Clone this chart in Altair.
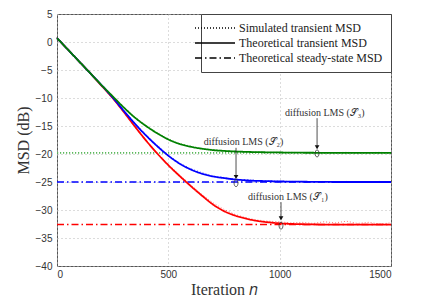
import altair as alt
import pandas as pd

# ---- data ----
iterations = list(range(0, 1501, 50))
nodes = ["S1", "S2", "S3", "S3-steady"]
node_colors = ["#ff0000", "#0000ff", "#008000", "#5cb85c"]
kinds = ["Simulated transient MSD", "Theoretical transient MSD", "Theoretical steady-state MSD"]
kind_green_ss = "steady-green"

red_theo = [0.7, -1.4, -3.5, -5.6, -7.8, -10.0, -12.5, -15.1, -17.6, -19.9, -22.0, -23.9, -25.7, -27.4,
            -29.0, -30.2, -31.0, -31.55, -31.95, -32.2, -32.38, -32.48, -32.54, -32.58, -32.6, -32.6,
            -32.6, -32.6, -32.6, -32.6, -32.6]
red_sim = [0.8, -1.3, -3.6, -5.5, -7.9, -10.1, -12.4, -15.0, -17.5, -19.8, -21.9, -23.7, -25.5, -27.2,
           -28.7, -29.9, -30.8, -31.4, -31.8, -32.0, -32.1, -32.3, -32.2, -32.4, -32.1, -32.3, -32.0,
           -32.4, -32.2, -32.5, -32.3]
blue_theo = [0.7, -1.4, -3.5, -5.6, -7.7, -9.9, -12.3, -14.6, -16.7, -18.6, -20.3, -21.7, -22.75, -23.5,
             -24.0, -24.3, -24.55, -24.7, -24.8, -24.85, -24.9, -24.93, -24.95, -24.97, -24.98, -25.0,
             -25.0, -25.0, -25.0, -25.0, -25.0]
blue_sim = [0.8, -1.3, -3.4, -5.7, -7.6, -9.8, -12.2, -14.5, -16.6, -18.4, -20.2, -21.6, -22.6, -23.3,
            -23.9, -24.2, -24.5, -24.6, -24.75, -24.8, -24.85, -24.9, -24.9, -24.95, -24.9, -24.95,
            -24.9, -25.0, -24.95, -24.9, -24.95]
green_theo = [0.7, -1.4, -3.5, -5.6, -7.7, -9.7, -11.7, -13.5, -15.0, -16.3, -17.4, -18.2, -18.7, -19.05,
              -19.3, -19.45, -19.55, -19.62, -19.67, -19.7, -19.73, -19.75, -19.77, -19.78, -19.79,
              -19.8, -19.8, -19.8, -19.8, -19.8, -19.8]
green_sim = [0.8, -1.3, -3.4, -5.5, -7.6, -9.6, -11.6, -13.4, -14.9, -16.2, -17.3, -18.1, -18.6, -19.0,
             -19.2, -19.4, -19.5, -19.6, -19.6, -19.7, -19.7, -19.7, -19.75, -19.7, -19.8, -19.75,
             -19.7, -19.8, -19.75, -19.7, -19.8]
steady_db = [-32.6, -25.0, -19.8]
steady_n = [0, 1500]

ann_text = ["diffusion LMS (𝒮₁)", "diffusion LMS (𝒮₂)", "diffusion LMS (𝒮₃)"]
ann_text_n = [1037, 838, 1203]
ann_text_db = [-27.7, -17.8, -12.7]
arrow_n = [1006, 804, 1168]
arrow_start_db = [-28.6, -18.9, -13.6]
arrow_head_db = [-31.5, -24.1, -18.8]
ellipse_db = [-32.8, -25.2, -19.9]

x_ticks = [0, 500, 1000, 1500]
y_ticks = [-40, -35, -30, -25, -20, -15, -10, -5, 0, 5]

# ---- tables ----
theo = {"S1": red_theo, "S2": blue_theo, "S3": green_theo}
sim = {"S1": red_sim, "S2": blue_sim, "S3": green_sim}
rows_theo, rows_sim, rows_ss = [], [], []
for nd in nodes[:3]:
    for n, v in zip(iterations, theo[nd]):
        rows_theo.append({"n": n, "msd": v, "node": nd, "kind": kinds[1]})
    for n, v in zip(iterations, sim[nd]):
        rows_sim.append({"n": n, "msd": v, "node": nd, "kind": kinds[0]})
for nd, v in zip(nodes[:3], steady_db):
    for n in steady_n:
        if nd == "S3":
            rows_ss.append({"n": n, "msd": v, "node": "S3-steady", "kind": kind_green_ss})
        else:
            rows_ss.append({"n": n, "msd": v, "node": nd, "kind": kinds[2]})
df_theo = pd.DataFrame(rows_theo)
df_sim = pd.DataFrame(rows_sim)
df_ss = pd.DataFrame(rows_ss)
df_ann = pd.DataFrame({"text": ann_text, "tn": ann_text_n, "tdb": ann_text_db, "an": arrow_n,
                       "a0": arrow_start_db, "a1": arrow_head_db, "e": ellipse_db})

serif = "Liberation Serif"
sans = "Liberation Sans"

x_scale = alt.Scale(domain=[0, 1500], nice=False)
y_scale = alt.Scale(domain=[-40, 5], nice=False)
x_axis = alt.Axis(values=x_ticks, title="Iteration 𝑛", format="d", titleFont=serif, titleFontSize=16,
                  titleFontWeight="normal", labelFont=sans, labelFontSize=10, labelPadding=3,
                  titlePadding=2)
y_axis = alt.Axis(values=y_ticks, title="MSD (dB)", titleFont=serif, titleFontSize=16,
                  titleFontWeight="normal", labelFont=sans, labelFontSize=10, labelPadding=5,
                  titlePadding=4)


def ax(f):
    return alt.X(f, type="quantitative", scale=x_scale, axis=x_axis)


def ay(f):
    return alt.Y(f, type="quantitative", scale=y_scale, axis=y_axis)


color_enc = alt.Color("node:N", scale=alt.Scale(domain=nodes, range=node_colors), legend=None)
dash_scale = alt.Scale(domain=kinds + [kind_green_ss],
                       range=[[1, 2], [1, 0], [7, 3, 1.5, 3], [1.2, 1.8]])
legend = alt.Legend(title=None, orient="top-right", offset=0, symbolType="M-4,0H4", symbolSize=100,
                    symbolStrokeWidth=1.3, symbolStrokeColor="black", symbolOpacity=1,
                    symbolFillColor="transparent", values=kinds,
                    labelFont=serif, labelFontSize=12, labelColor="#222", fillColor="white",
                    strokeColor="#444", padding=8, rowPadding=3, labelOffset=18)
dash_enc = alt.StrokeDash("kind:N", scale=dash_scale, legend=legend)

sim_layer = alt.Chart(df_sim).mark_line(strokeWidth=1, opacity=0.55).encode(
    x=ax("n"), y=ay("msd"), color=color_enc, strokeDash=dash_enc, detail="node:N")
ss_layer = alt.Chart(df_ss).mark_line(strokeWidth=1.6).encode(
    x=ax("n"), y=ay("msd"), color=color_enc, strokeDash=dash_enc, detail="node:N")
theo_layer = alt.Chart(df_theo).mark_line(strokeWidth=1.8, interpolate="monotone").encode(
    x=ax("n"), y=ay("msd"), color=color_enc, strokeDash=dash_enc, detail="node:N")

arrows = alt.Chart(df_ann).mark_rule(color="#222", strokeWidth=0.8).encode(
    x=ax("an"), y=ay("a0"), y2="a1:Q")
heads = alt.Chart(df_ann).mark_point(shape="triangle-down", filled=True, color="#111", size=22,
                                     opacity=1).encode(x=ax("an"), y=ay("a1"))
ellipses = alt.Chart(df_ann).mark_point(
    shape="M0,-1A0.55,1 0 1,1 0,1A0.55,1 0 1,1 0,-1Z", filled=False, color="#333",
    strokeWidth=0.8, size=50, opacity=1).encode(x=ax("an"), y=ay("e"))
texts = alt.Chart(df_ann).mark_text(font=serif, fontSize=10, color="#333", align="center",
                                    baseline="middle").encode(x=ax("tn"), y=ay("tdb"), text="text:N")

chart = alt.layer(sim_layer, ss_layer, theo_layer, arrows, heads, ellipses, texts).properties(
    width=334, height=252, autosize=alt.AutoSizeParams(type="none"),
    padding={"left": 49, "top": 6, "right": 45, "bottom": 38}
).configure_view(stroke="#555", strokeWidth=1).configure_axis(
    grid=True, gridColor="#b8b8b8", gridDash=[1, 3], gridWidth=1, ticks=False, domain=False,
    labelColor="#333", titleColor="#333"
)

chart.save("out.html", embed_options={"renderer": "svg", "actions": False})
